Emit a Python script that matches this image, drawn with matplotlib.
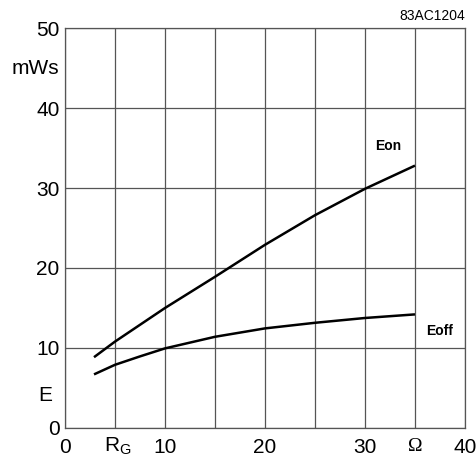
import matplotlib.pyplot as plt

plt.rcParams['font.family'] = ['Liberation Sans', 'DejaVu Sans']

# gate resistance (Ohm) and switching energies (mWs)
rg = [2.9, 5, 7.5, 10, 15, 20, 25, 30, 35]
e_on = [8.85, 10.8, 12.9, 15.0, 18.9, 22.9, 26.6, 29.9, 32.8]
e_off = [6.7, 7.9, 8.95, 9.95, 11.4, 12.45, 13.15, 13.75, 14.2]

x_ticks = [0, 5, 10, 15, 20, 25, 30, 35, 40]
x_labels = ['0', '', '10', '', '20', '', '30', '', '40']
y_ticks = [0, 10, 20, 30, 40, 50]

fig = plt.figure(figsize=(4.77, 4.57), dpi=100)
ax = fig.add_axes([0.1363, 0.0635, 0.8385, 0.8752])

ax.plot(rg, e_on, color='black', lw=1.8, solid_capstyle='butt')
ax.plot(rg, e_off, color='black', lw=1.8, solid_capstyle='butt')

ax.set_xlim(0, 40)
ax.set_ylim(0, 50)
ax.set_xticks(x_ticks)
ax.set_xticklabels(x_labels)
ax.set_yticks(y_ticks)
ax.tick_params(length=0, labelsize=15)
ax.tick_params(axis='x', pad=7)
ax.tick_params(axis='y', pad=4)
ax.grid(True, color='#555555', lw=0.9)
for s in ax.spines.values():
    s.set_color('#555555')
    s.set_linewidth(0.9)

# axis labels placed like the datasheet
ax.text(-0.6, 45.0, 'mWs', fontsize=15, ha='right', va='center', clip_on=False)
ax.text(-2.0, 4.1, 'E', fontsize=15, ha='center', va='center', clip_on=False)
ax.text(5.3, -2.3, r'$\mathregular{R_G}$', fontsize=15, ha='center', va='center', clip_on=False)
ax.text(35.0, -2.3, 'Ω', fontsize=14, family=['Liberation Serif', 'DejaVu Serif'],
        ha='center', va='center', clip_on=False)
ax.text(40.0, 50.6, '83AC1204', fontsize=10, ha='right', va='bottom', clip_on=False)

ax.text(32.3, 35.2, 'Eon', fontsize=10, fontweight='bold', ha='center', va='center')
ax.text(37.5, 12.1, 'Eoff', fontsize=10, fontweight='bold', ha='center', va='center')

fig.savefig('out.png', dpi=100)
